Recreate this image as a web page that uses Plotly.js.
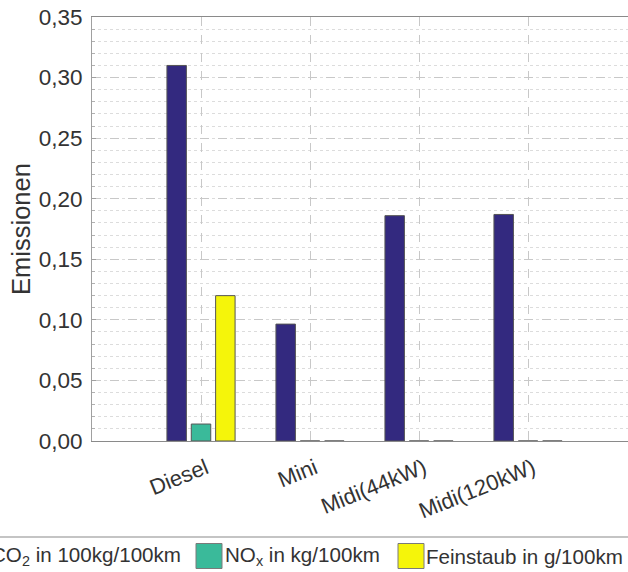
<!DOCTYPE html>
<html><head><meta charset="utf-8">
<script src="https://cdn.plot.ly/plotly-3.0.1.min.js"></script>
<style>html,body{margin:0;padding:0;background:#fff;overflow:hidden;} #chart{width:628px;height:572px;}</style>
</head><body><div id="chart"></div>
<script>
// ---- data ----
const categories = ['Diesel', 'Mini', 'Midi(44kW)', 'Midi(120kW)'];
const co2Values = [0.310, 0.0965, 0.186, 0.187];
const noxValues = [0.014, 0, 0, 0];
const feinstaubValues = [0.120, 0, 0, 0];
const seriesNames = ['CO<sub>2</sub> in 100kg/100km', 'NO<sub>x</sub> in kg/100km', 'Feinstaub in g/100km'];
const yTickValues = [0, 0.05, 0.10, 0.15, 0.20, 0.25, 0.30, 0.35];
const yAxisTitle = 'Emissionen';

// ---- styling ----
const colors = ['#33297f', '#3aba9a', '#f5f50a'];
const FONT = 'Liberation Sans, Arial, sans-serif';
const TXT = '#333333';
const W = 628, H = 572;
const M = { l: 92, r: 0, t: 17, b: 131 };
const PW = W - M.l - M.r, PH = H - M.t - M.b;
const px2x = px => (px - M.l) / PW;          // pixel -> paper x
const py2y = py => (H - M.b - py) / PH;      // pixel -> paper y

const seriesValues = [co2Values, noxValues, feinstaubValues];
const traces = seriesValues.map((vals, i) => ({
  type: 'bar',
  x: categories,
  y: vals,
  name: seriesNames[i],
  marker: { color: colors[i], line: { color: '#555555', width: 1 } },
  showlegend: false
}));

// ---- hand-built legend strip along the bottom (like the original) ----
const legendSwatchLeft = [-40, 196, 398];    // px
const legendTextLeft = [-10, 224, 425];      // px
const legendTop = 537, legendMid = 556, swH = 25, swW = 26;
const shapes = [{
  type: 'line', xref: 'paper', yref: 'paper',
  x0: px2x(-10), x1: px2x(W + 10), y0: py2y(legendTop), y1: py2y(legendTop),
  line: { color: '#c4c4c4', width: 2 }
}];
const annotations = [];
seriesNames.forEach((nm, i) => {
  shapes.push({
    type: 'rect', xref: 'paper', yref: 'paper',
    x0: px2x(legendSwatchLeft[i]), x1: px2x(legendSwatchLeft[i] + swW),
    y0: py2y(legendMid + swH / 2), y1: py2y(legendMid - swH / 2),
    fillcolor: colors[i], line: { color: '#7a7a7a', width: 1 }
  });
  annotations.push({
    xref: 'paper', yref: 'paper', x: px2x(legendTextLeft[i]), y: py2y(legendMid),
    xanchor: 'left', yanchor: 'middle', showarrow: false, text: nm,
    font: { family: FONT, size: 20.6, color: TXT }, borderpad: 0
  });
});

const layout = {
  width: W, height: H,
  margin: { l: M.l, r: M.r, t: M.t, b: M.b, pad: 0 },
  paper_bgcolor: '#ffffff', plot_bgcolor: '#ffffff',
  separators: ', ',
  font: { family: FONT, color: TXT, size: 20 },
  barmode: 'group', bargap: 0.33, bargroupgap: 0.2,
  showlegend: false,
  shapes: shapes,
  annotations: annotations,
  xaxis: {
    type: 'category', range: [-1, 3.917],
    showline: true, linecolor: '#8a8a8a', linewidth: 1, mirror: true,
    showgrid: true, gridcolor: '#c8c8c8', griddash: 'dash', gridwidth: 1,
    ticks: 'outside', ticklen: 5, tickcolor: 'rgba(0,0,0,0)',
    ticklabelshift: 5,
    tickangle: -22, tickfont: { family: FONT, size: 22, color: TXT },
    zeroline: false, fixedrange: true
  },
  yaxis: {
    range: [0, 0.35], tickvals: yTickValues, tickformat: '.2f',
    showline: true, linecolor: '#a0a0a0', linewidth: 1,
    ticks: 'inside', ticklen: 4, tickcolor: '#a0a0a0', ticklabelstandoff: 4,
    showgrid: true, gridcolor: '#c8c8c8', griddash: 'dash', gridwidth: 1,
    minor: { dtick: 0.01, showgrid: true, gridcolor: '#dcdcdc', griddash: 'dot', gridwidth: 1,
             ticks: 'inside', ticklen: 3, tickcolor: '#b0b0b0' },
    tickfont: { family: FONT, size: 22.5, color: TXT },
    title: { text: yAxisTitle, font: { family: FONT, size: 25.5, color: TXT }, standoff: 0 },
    zeroline: false, fixedrange: true
  }
};

Plotly.newPlot('chart', traces, layout, { displayModeBar: false, staticPlot: true });
</script>
</body></html>
